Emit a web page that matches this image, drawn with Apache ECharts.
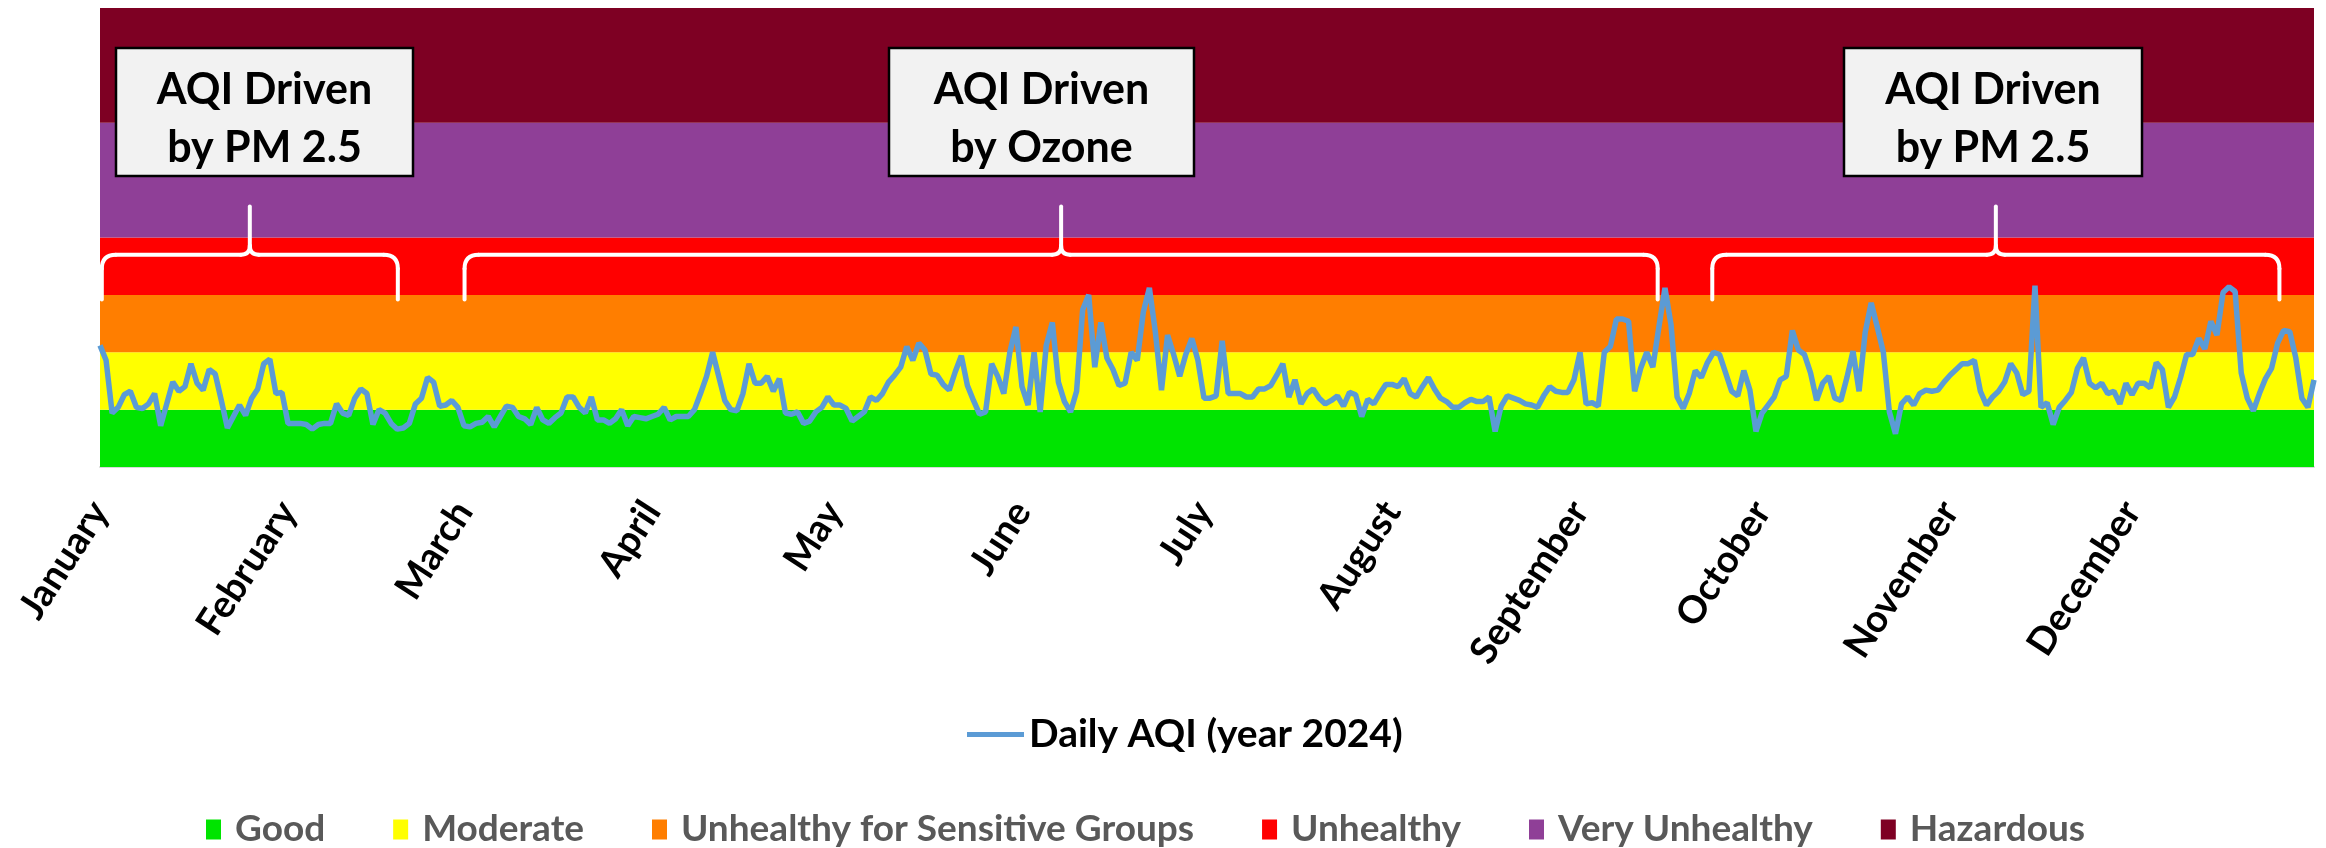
<!DOCTYPE html>
<html><head><meta charset="utf-8">
<script src="https://cdn.jsdelivr.net/npm/echarts@6/dist/echarts.min.js"></script>
<style>html,body{margin:0;padding:0;background:#fff}#c{width:2326px;height:848px}</style>
</head><body><div id="c"></div>
<script>
// ---- categories ----
const monthNames = ['January','February','March','April','May','June','July','August','September','October','November','December'];
const daysInMonth = [31,29,31,30,31,30,31,31,30,31,30,31];
// ---- daily AQI values (2024), one array per month ----
const jan = [106,93,47,52,63,66,52,51,55,64,36,55,74,66,70,90,73,67,85,81,58,34,44,54,45,60,68,90,94,64,65];
const feb = [38,38,38,37,33,37,38,38,55,47,45,60,68,64,37,50,47,38,33,34,38,55,60,78,74,53,54,58,52];
const mar = [36,35,38,39,44,35,44,53,52,44,42,37,52,41,38,43,47,61,61,52,47,61,41,41,38,42,50,36,44,43,42];
const apr = [44,46,52,41,44,44,44,50,64,79,100,79,58,50,49,64,90,73,73,79,66,77,47,46,48,38,40,48,52,61];
const may = [54,54,51,40,44,48,61,58,64,74,80,87,105,93,108,102,81,80,72,67,83,97,71,58,46,48,90,79,64,100,122];
const jun = [70,54,100,48,106,126,74,57,48,66,137,150,87,126,95,85,71,73,100,93,135,156,117,67,115,98,79,98,112,93];
const jul = [60,60,62,110,64,64,64,61,61,68,68,71,80,90,61,76,55,64,68,60,55,58,62,53,65,63,44,59,55,64,72];
const aug = [72,70,77,64,61,70,78,68,60,57,52,52,56,59,57,57,61,31,53,62,60,58,55,54,52,62,70,66,65,65,76];
const sep = [100,55,56,53,100,105,129,129,127,66,86,100,87,122,156,124,61,51,64,84,78,91,100,98,82,66,62,84,67,31];
const oct = [47,54,61,76,79,119,102,98,82,58,73,79,60,58,78,101,66,117,143,122,100,48,29,55,61,54,64,67,66,67,74];
const nov = [80,85,90,90,93,66,54,61,66,74,90,82,63,66,158,52,56,37,52,58,65,86,95,73,69,73,64,66,55,73];
const dec = [63,73,73,69,91,85,52,61,78,98,98,112,103,127,115,152,157,153,82,60,49,64,77,86,108,119,118,95,60,52,76];
// ---- AQI category bands ----
const bandNames = ['Good','Moderate','Unhealthy for Sensitive Groups','Unhealthy','Very Unhealthy','Hazardous'];
const bandLow = [0,50,100,150,200,300];
const bandHigh = [50,100,150,200,300,400];
const bandColors = ['#00e400','#ffff00','#ff7e00','#ff0000','#8f3f97','#7e0023'];
// ---- annotations: day-of-year ranges ----
const noteText = ['AQI Driven\nby PM 2.5','AQI Driven\nby Ozone','AQI Driven\nby PM 2.5'];
const noteStartDay = [0.3, 60.1, 265.8];
const noteEndDay = [49.1, 256.8, 359.3];

const lineName = 'Daily AQI (year 2024)';
const months = [jan,feb,mar,apr,may,jun,jul,aug,sep,oct,nov,dec];
const dates = [], aqi = [], monthStart = {};
months.forEach((arr, m) => {
  for (let d = 0; d < daysInMonth[m]; d++) {
    const key = '2024-' + String(m+1).padStart(2,'0') + '-' + String(d+1).padStart(2,'0');
    if (d === 0) monthStart[key] = monthNames[m];
    dates.push(key);
    aqi.push(arr[d]);
  }
});

const FONT = 'Lato';
const chart = echarts.init(document.getElementById('c'), null, {renderer:'canvas'});

const bandSeries = bandNames.map((n, i) => ({
  name: n, type: 'line', data: [], color: bandColors[i],
  itemStyle: {color: bandColors[i]},
  markArea: {silent: true, z: 1, itemStyle: {color: bandColors[i], opacity: 1},
    data: [[{yAxis: bandLow[i]}, {yAxis: bandHigh[i]}]]}
}));

const braceSeries = {
  type: 'custom', xAxisIndex: 1, yAxisIndex: 0, z: 6, silent: true,
  data: noteStartDay.map((s, i) => [s, noteEndDay[i]]),
  renderItem: function (params, api) {
    const pL = api.coord([api.value(0), 146]);
    const pR = api.coord([api.value(1), 146]);
    const xL = pL[0], xR = pR[0], yB = pL[1];
    const yH = api.coord([0, 185])[1];
    const yT = api.coord([0, 227])[1];
    const xM = (xL + xR) / 2, r1 = 14, r2 = 9;
    const st = {stroke: '#ffffff', lineWidth: 4, fill: null, lineCap: 'round'};
    const L = (x1,y1,x2,y2) => ({type:'line', shape:{x1,y1,x2,y2}, style: st});
    const B = (x1,y1,cpx1,cpy1,x2,y2) => ({type:'bezierCurve', shape:{x1,y1,cpx1,cpy1,x2,y2}, style: st});
    return {type: 'group', children: [
      L(xL, yB, xL, yH + r1),
      B(xL, yH + r1, xL, yH, xL + r1, yH),
      L(xL + r1, yH, xM - r2, yH),
      B(xM - r2, yH, xM, yH, xM, yH - r2),
      L(xM, yH - r2, xM, yT),
      B(xM, yH - r2, xM, yH, xM + r2, yH),
      L(xM + r2, yH, xR - r1, yH),
      B(xR - r1, yH, xR, yH, xR, yH + r1),
      L(xR, yH + r1, xR, yB)
    ]};
  }
};

const boxLeft = [116, 889, 1844];
const boxWidth = [297, 305, 298];
const graphics = [];
noteText.forEach((t, i) => {
  graphics.push({type: 'rect', x: boxLeft[i], y: 48, z: 100,
    shape: {x: 0, y: 0, width: boxWidth[i], height: 128},
    style: {fill: '#f2f2f2', stroke: '#000000', lineWidth: 2.5}});
  graphics.push({type: 'text', x: boxLeft[i] + boxWidth[i] / 2, y: 119, z: 101,
    style: {text: t, fontFamily: FONT, fontSize: 43, fontWeight: 'bold', fill: '#000000',
      textAlign: 'center', textVerticalAlign: 'middle', align: 'center', verticalAlign: 'middle', lineHeight: 58}});
});

chart.setOption({
  animation: false,
  backgroundColor: '#ffffff',
  grid: {left: 100, right: 12, top: 8, bottom: 381, containLabel: false},
  legend: [
    {data: [{name: lineName, icon: 'rect'}], left: 962, top: 710, itemWidth: 57, itemHeight: 5,
     textStyle: {fontFamily: FONT, fontSize: 39, fontWeight: 'bold', color: '#000'}},
    {data: bandNames.map(n => ({name: n, icon: 'rect'})), left: 201, top: 806, itemWidth: 15, itemHeight: 20,
     itemGap: 68, selectedMode: false,
     textStyle: {fontFamily: FONT, fontSize: 37, fontWeight: 'bold', color: '#595959', padding: [0, 0, 0, 9]}}
  ],
  xAxis: [
    {type: 'category', data: dates, boundaryGap: false,
     axisLine: {show: true, lineStyle: {color: '#d9d9d9', width: 2}},
     axisTick: {show: false},
     axisLabel: {interval: (idx, v) => !!monthStart[v], formatter: v => monthStart[v] || '',
       rotate: 57, margin: 38, fontFamily: FONT, fontSize: 38, fontWeight: 'bold', color: '#000'},
     splitLine: {show: false}},
    {type: 'value', min: 0, max: dates.length - 1, show: false}
  ],
  yAxis: {type: 'value', min: 0, max: 400, interval: 50, show: true,
    axisLine: {show: false}, axisTick: {show: false}, axisLabel: {show: false},
    splitLine: {show: false}},
  series: bandSeries.concat([
    {name: lineName, type: 'line', data: aqi, z: 5, color: '#5b9bd5', showSymbol: false, symbol: 'none',
     lineStyle: {color: '#5b9bd5', width: 5.5}, itemStyle: {color: '#5b9bd5'}},
    braceSeries
  ]),
  graphic: {elements: graphics}
});
</script></body></html>
